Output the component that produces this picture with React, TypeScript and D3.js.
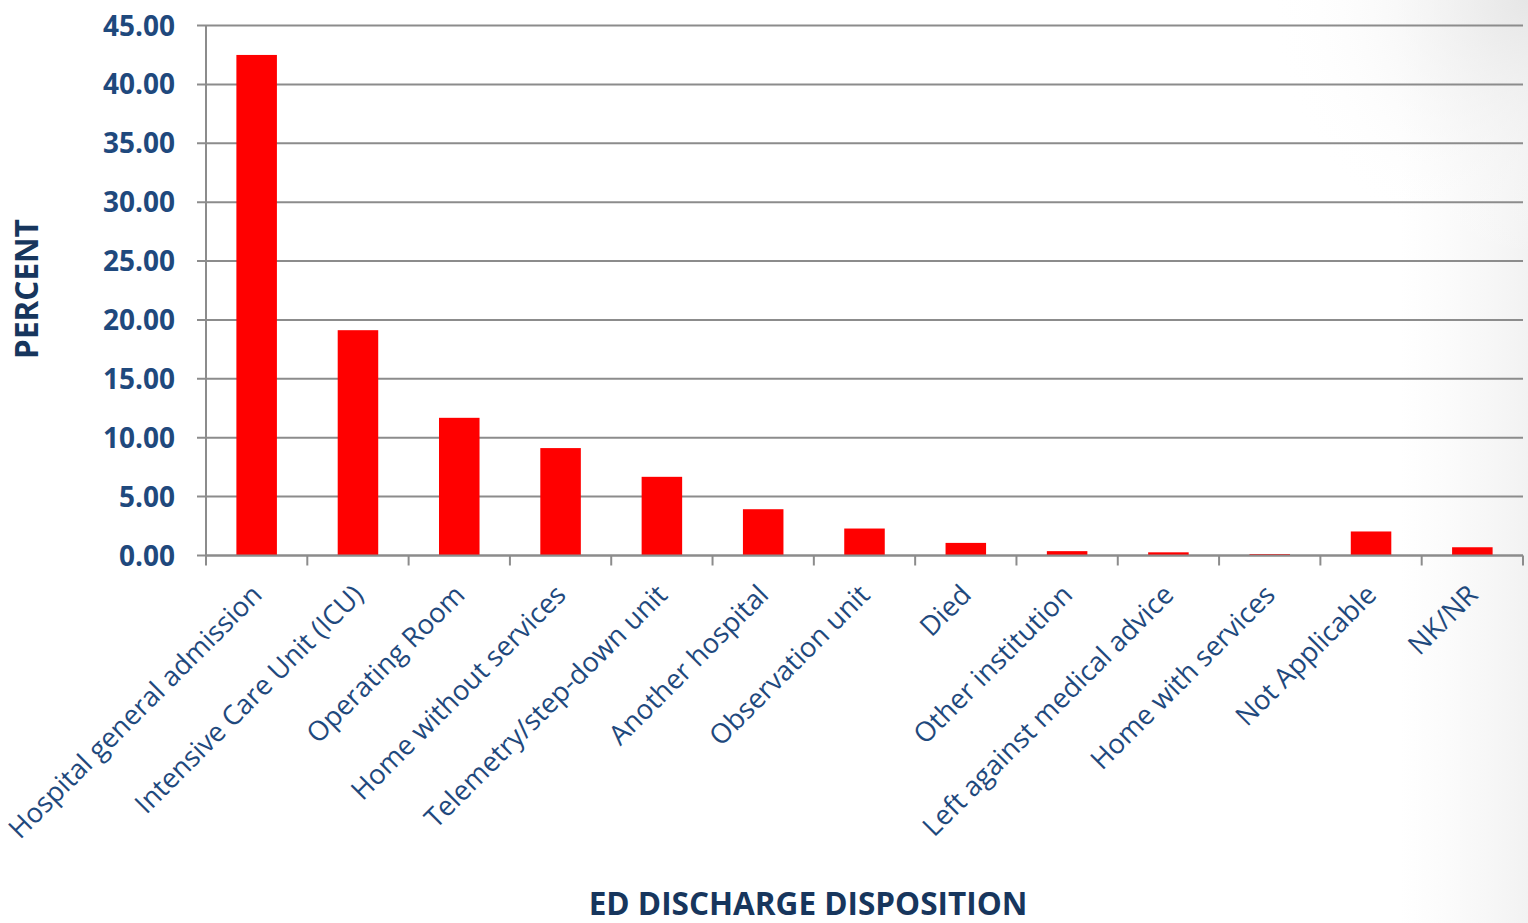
import React from "react";
import * as d3 from "d3";

const categories = [
  "Hospital general admission",
  "Intensive Care Unit (ICU)",
  "Operating Room",
  "Home without services",
  "Telemetry/step-down unit",
  "Another hospital",
  "Observation unit",
  "Died",
  "Other institution",
  "Left against medical advice",
  "Home with services",
  "Not Applicable",
  "NK/NR",
];
const percents = [42.5, 19.13, 11.69, 9.12, 6.68, 3.93, 2.29, 1.07, 0.37, 0.27, 0.12, 2.04, 0.7];
const yTicks = [0, 5, 10, 15, 20, 25, 30, 35, 40, 45];

const W = 1528;
const H = 923;
const M = { left: 206, right: 1523, top: 25.5, bottom: 555.5 };

export default function App() {
  const x = d3
    .scaleBand<string>()
    .domain(categories)
    .range([M.left, M.right])
    .paddingInner(0.6)
    .paddingOuter(0.3);
  const xStep = d3.scaleBand<string>().domain(categories).range([M.left, M.right]);
  const y = d3.scaleLinear().domain([0, 45]).range([M.bottom, M.top]);
  const axisColor = "#8c8c8c";
  const labelColor = "#1f497d";
  const font = "'Open Sans', sans-serif";

  return (
    <svg
      width={W}
      height={H}
      style={{ position: "absolute", left: 0, top: 0, display: "block" }}
    >
      <defs>
        <radialGradient id="bgr" cx={W} cy={0} r={260} gradientUnits="userSpaceOnUse">
          <stop offset="0" stopColor="#e6e6e6" stopOpacity={1} />
          <stop offset="1" stopColor="#ffffff" stopOpacity={0} />
        </radialGradient>
        <linearGradient id="bgl" x1="0" x2="1" y1="0" y2="0">
          <stop offset="0" stopColor="#f6f6f6" stopOpacity={0} />
          <stop offset="1" stopColor="#f2f2f2" stopOpacity={1} />
        </linearGradient>
      </defs>
      <rect x={0} y={0} width={W} height={H} fill="#ffffff" />
      <rect x={1400} y={0} width={W - 1400} height={H} fill="url(#bgl)" />
      <rect x={1200} y={0} width={W - 1200} height={400} fill="url(#bgr)" />

      {/* gridlines */}
      {yTicks.map((t) => (
        <line
          key={"g" + t}
          x1={M.left - 9}
          x2={M.right}
          y1={y(t)}
          y2={y(t)}
          stroke={axisColor}
          strokeWidth={2}
        />
      ))}
      {/* y axis line */}
      <line x1={M.left} x2={M.left} y1={M.top} y2={M.bottom + 10} stroke={axisColor} strokeWidth={2} />
      {/* x ticks */}
      {categories.map((c, i) => (
        <line
          key={"t" + i}
          x1={(xStep(c) as number) + xStep.bandwidth()}
          x2={(xStep(c) as number) + xStep.bandwidth()}
          y1={M.bottom}
          y2={M.bottom + 10}
          stroke={axisColor}
          strokeWidth={2}
        />
      ))}

      {/* bars */}
      {categories.map((c, i) => (
        <rect
          key={"b" + i}
          x={x(c)}
          y={y(percents[i])}
          width={x.bandwidth()}
          height={y(0) - y(percents[i])}
          fill="#ff0000"
        />
      ))}
      {/* x axis line over bars */}
      <line x1={M.left} x2={M.right} y1={M.bottom} y2={M.bottom} stroke={axisColor} strokeWidth={2} />

      {/* y tick labels */}
      {yTicks.map((t) => (
        <text
          key={"yl" + t}
          x={175}
          y={y(t)}
          dy="0.36em"
          textAnchor="end"
          fontFamily={font}
          fontWeight={700}
          fontSize={28}
          fill={labelColor}
        >
          {t.toFixed(2)}
        </text>
      ))}

      {/* x tick labels */}
      {categories.map((c, i) => {
        const cx = (x(c) as number) + x.bandwidth() / 2 + 7;
        const cy = M.bottom + 41;
        return (
          <text
            key={"xl" + i}
            transform={`translate(${cx},${cy}) rotate(-45)`}
            textAnchor="end"
            fontFamily={font}
            fontSize={27.3}
            fill={labelColor}
          >
            {c}
          </text>
        );
      })}

      {/* axis titles */}
      <text
        transform={`translate(38,289) rotate(-90)`}
        textAnchor="middle"
        fontFamily={font}
        fontWeight={700}
        fontSize={31.5}
        fill="#17365d"
      >
        PERCENT
      </text>
      <text
        x={808}
        y={915}
        textAnchor="middle"
        fontFamily={font}
        fontWeight={700}
        fontSize={31.5}
        fill="#17365d"
      >
        ED DISCHARGE DISPOSITION
      </text>
    </svg>
  );
}
